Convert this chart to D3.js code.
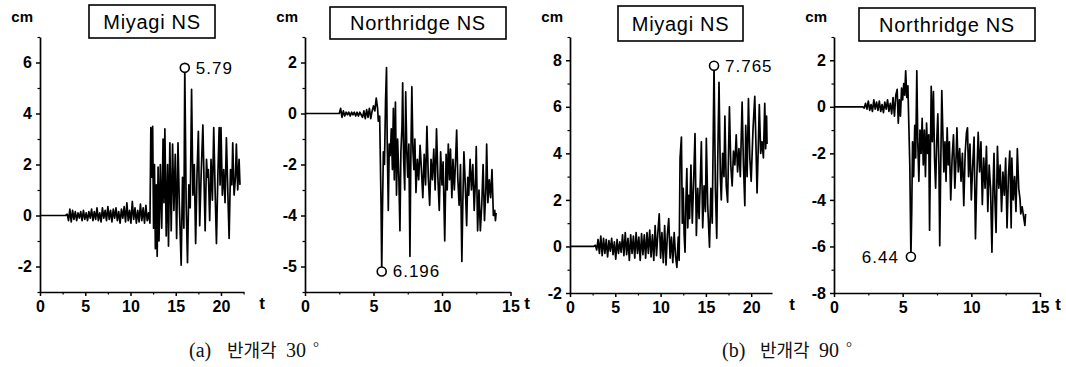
<!DOCTYPE html>
<html>
<head>
<meta charset="utf-8">
<script src="https://cdn.jsdelivr.net/npm/d3@7"></script>
<style>
  body { margin: 0; background: #fff; }
  svg { display: block; }
</style>
</head>
<body>
<div id="chart"></div>
<script>
// [t (s), displacement (cm)]
const miyagi30 = [
  [0,0],[2.8,0],[3.0,0.05],[3.15,-0.2],[3.3,0.25],[3.45,-0.25],[3.6,0.2],[3.75,-0.15],[3.9,0.15],[4.05,-0.2],
  [4.2,0.1],[4.35,-0.1],[4.5,0.15],[4.65,-0.2],[4.8,0.2],[4.95,-0.15],[5.1,0.1],[5.25,-0.2],[5.4,0.15],[5.55,-0.1],
  [5.7,0.25],[5.85,-0.2],[6.0,0.15],[6.15,-0.15],[6.3,0.3],[6.45,-0.2],[6.6,0.1],[6.75,-0.25],[6.9,0.3],[7.05,-0.1],
  [7.2,0.2],[7.35,-0.2],[7.5,0.35],[7.65,-0.15],[7.8,0.2],[7.95,-0.25],[8.1,0.25],[8.25,-0.1],[8.4,0.3],[8.55,-0.2],
  [8.7,0.15],[8.85,-0.3],[9.0,0.25],[9.15,-0.1],[9.3,0.35],[9.45,-0.25],[9.6,0.5],[9.75,-0.2],[9.9,0.2],[10.05,-0.3],
  [10.2,0.55],[10.35,-0.15],[10.5,0.3],[10.65,-0.3],[10.8,0.2],[10.95,-0.25],[11.1,0.45],[11.25,-0.2],[11.4,0.3],[11.55,-0.3],
  [11.7,0.4],[11.85,-0.2],[12.0,0.1],[12.15,-0.3],[12.25,3.45],[12.35,1.5],[12.45,3.5],[12.55,-0.5],[12.65,2.0],[12.75,-1.3],
  [12.85,1.2],[12.95,-1.6],[13.05,1.9],[13.15,-1.0],[13.3,2.0],[13.45,-0.5],[13.6,3.0],[13.7,0.5],[13.8,3.4],[13.95,-0.8],
  [14.1,2.0],[14.2,-1.2],[14.35,2.85],[14.5,-0.6],[14.65,2.8],[14.8,0.2],[14.95,2.4],[15.1,-0.9],[15.25,2.85],[15.4,0.4],
  [15.6,-1.95],[15.75,1.5],[15.9,-0.5],[16.0,5.79],[16.15,0.5],[16.3,-1.85],[16.45,1.2],[16.6,0.3],[16.75,4.95],[16.9,0.8],
  [17.05,2.0],[17.2,-1.1],[17.35,1.6],[17.5,3.3],[17.65,-0.4],[17.8,1.5],[18.0,3.55],[18.15,1.0],[18.25,-0.6],[18.4,2.2],
  [18.5,1.5],[18.6,1.8],[18.75,-0.2],[18.9,2.2],[19.05,0.6],[19.2,3.45],[19.35,1.0],[19.5,-1.1],[19.65,1.5],[19.8,3.45],
  [19.9,1.2],[20.0,3.45],[20.15,0.8],[20.3,1.8],[20.45,0.5],[20.6,3.05],[20.75,1.0],[20.9,-0.9],[21.05,1.8],[21.2,1.2],
  [21.3,2.85],[21.45,0.8],[21.6,1.5],[21.7,2.8],[21.85,1.0],[22.0,2.2],[22.1,1.2]
];

const northridge30 = [
  [0,0],[2.5,0],[2.6,0.2],[2.7,-0.15],[2.8,0.1],[2.9,-0.1],[3.0,0.05],[3.1,-0.05],[3.2,0.05],[3.3,-0.1],
  [3.4,0.05],[3.5,-0.05],[3.6,0.05],[3.7,-0.1],[3.8,0.05],[3.9,-0.1],[4.0,0.05],[4.1,-0.05],[4.2,-0.15],[4.3,0.1],
  [4.4,-0.2],[4.5,0.15],[4.6,-0.15],[4.7,0.2],[4.8,-0.2],[4.9,0.1],[5.0,0.3],[5.1,0.1],[5.2,0.6],[5.3,0.2],
  [5.35,-0.3],[5.45,-0.1],[5.55,-3.5],[5.6,-6.196],[5.65,-4.0],[5.72,-1.5],[5.8,-2.0],[5.88,0.5],[5.95,1.8],[6.0,-1.0],
  [6.08,-3.8],[6.15,-1.2],[6.22,-1.65],[6.3,-0.6],[6.38,-2.2],[6.45,0.2],[6.52,-2.6],[6.6,0.45],[6.68,-3.2],[6.76,-1.0],
  [6.85,-2.5],[6.93,-4.6],[7.0,-1.5],[7.08,-0.5],[7.13,1.2],[7.2,-1.8],[7.28,-3.0],[7.35,0.85],[7.43,-1.5],[7.5,-2.5],
  [7.58,-1.2],[7.66,-5.6],[7.72,-2.0],[7.8,1.05],[7.88,-1.5],[7.95,-2.2],[8.02,-1.0],[8.1,-3.1],[8.2,-1.8],[8.3,-2.6],
  [8.4,-1.25],[8.5,-2.2],[8.6,-3.3],[8.7,-1.6],[8.8,-2.8],[8.9,-0.5],[9.0,-2.5],[9.1,-3.6],[9.2,-1.8],[9.3,-2.6],
  [9.4,-1.4],[9.5,-3.0],[9.6,-0.6],[9.7,-2.5],[9.8,-3.8],[9.9,-1.5],[10.0,-2.8],[10.08,-1.9],[10.2,-5.0],[10.3,-1.6],
  [10.38,-3.0],[10.46,-1.2],[10.55,-2.6],[10.62,-1.4],[10.72,-3.3],[10.8,-1.8],[10.9,-3.0],[11.0,-1.7],[11.07,-0.65],[11.15,-2.5],
  [11.25,-3.6],[11.35,-2.0],[11.45,-5.8],[11.52,-3.5],[11.6,-1.5],[11.7,-2.8],[11.8,-4.4],[11.88,-2.5],[11.95,-3.2],[12.05,-1.8],
  [12.15,-3.0],[12.25,-2.0],[12.35,-3.8],[12.45,-2.5],[12.5,-1.3],[12.6,-4.6],[12.7,-3.0],[12.8,-4.6],[12.9,-3.6],[13.0,-2.0],
  [13.1,-4.2],[13.2,-3.0],[13.26,-1.2],[13.35,-3.5],[13.45,-2.6],[13.55,-3.3],[13.65,-2.2],[13.75,-4.0],[13.85,-3.8],[13.9,-4.2],
  [13.95,-3.9]
];

const miyagi90 = [
  [0,0],[2.6,0],[2.8,0.05],[2.95,-0.15],[3.1,0.3],[3.25,-0.3],[3.4,0.45],[3.55,-0.4],[3.7,0.35],[3.85,-0.3],
  [4.0,0.3],[4.15,-0.45],[4.3,0.25],[4.45,-0.2],[4.6,0.35],[4.75,-0.35],[4.9,0.2],[5.05,-0.55],[5.2,0.3],[5.35,-0.3],
  [5.5,0.2],[5.65,-0.25],[5.8,0.5],[5.95,-0.4],[6.1,0.6],[6.25,-0.35],[6.4,0.35],[6.55,-0.6],[6.7,0.5],[6.85,-0.3],
  [7.0,0.45],[7.15,-0.5],[7.3,0.6],[7.45,-0.3],[7.6,0.4],[7.75,-0.6],[7.9,0.55],[8.05,-0.35],[8.2,0.5],[8.35,-0.5],
  [8.5,0.6],[8.65,-0.3],[8.8,0.7],[8.95,-0.45],[9.1,0.5],[9.25,-0.6],[9.4,0.9],[9.55,-0.4],[9.7,0.6],[9.85,1.4],
  [10.0,-0.5],[10.15,0.6],[10.3,-0.7],[10.45,0.9],[10.6,-0.8],[10.75,0.5],[10.9,1.2],[11.05,-0.5],[11.2,0.4],[11.35,-0.7],
  [11.5,0.6],[11.65,-0.4],[11.8,-0.9],[11.95,0.4],[12.05,-0.6],[12.15,3.8],[12.3,4.7],[12.4,1.0],[12.5,2.5],[12.6,0.5],
  [12.7,-0.25],[12.8,2.0],[12.9,3.35],[13.0,0.8],[13.1,2.2],[13.2,1.2],[13.35,3.5],[13.5,1.0],[13.65,2.8],[13.8,4.85],
  [13.95,0.47],[14.1,2.5],[14.25,1.2],[14.4,3.0],[14.5,4.5],[14.65,0.8],[14.8,2.6],[14.95,1.5],[15.05,4.65],[15.2,1.8],
  [15.4,-0.03],[15.55,2.5],[15.7,1.0],[15.9,7.765],[16.05,2.5],[16.2,0.35],[16.3,3.5],[16.45,7.05],[16.6,3.0],[16.7,2.0],
  [16.85,4.0],[17.0,3.0],[17.1,5.6],[17.25,2.6],[17.4,1.9],[17.6,6.0],[17.75,3.5],[17.9,2.6],[18.05,4.1],[18.2,3.5],
  [18.35,4.8],[18.5,3.2],[18.65,4.2],[18.8,3.0],[19.0,6.2],[19.15,3.5],[19.3,1.75],[19.4,5.2],[19.55,3.0],[19.7,6.35],
  [19.85,3.8],[20.0,2.8],[20.2,5.0],[20.4,6.45],[20.55,4.0],[20.65,2.3],[20.8,4.5],[20.9,6.1],[21.05,4.0],[21.2,4.5],
  [21.35,3.8],[21.5,6.15],[21.6,4.2],[21.7,5.6],[21.75,4.4]
];

const northridge90 = [
  [0,0],[2.1,0],[2.2,-0.05],[2.3,0.15],[2.4,-0.1],[2.5,0.25],[2.6,-0.15],[2.7,0.1],[2.8,-0.2],[2.9,0.3],
  [3.0,-0.1],[3.1,0.2],[3.2,-0.15],[3.3,0.25],[3.4,-0.2],[3.5,0.1],[3.6,-0.25],[3.7,0.2],[3.8,-0.1],[3.9,0.3],
  [4.0,-0.2],[4.1,0.15],[4.2,-0.3],[4.3,0.4],[4.4,-0.4],[4.5,0.5],[4.6,0.75],[4.68,-0.7],[4.76,0.3],[4.84,-0.4],
  [4.92,0.8],[5.0,0.3],[5.08,1.0],[5.15,0.5],[5.22,1.55],[5.3,0.4],[5.38,0.9],[5.45,-0.8],[5.52,-2.5],[5.6,-6.44],
  [5.66,-4.5],[5.72,-1.5],[5.8,-3.0],[5.88,-0.8],[5.95,-2.2],[6.03,1.55],[6.1,-1.5],[6.18,-3.2],[6.26,-1.0],[6.34,-2.0],
  [6.42,-0.5],[6.5,-2.5],[6.58,-1.0],[6.66,-3.0],[6.74,-0.7],[6.82,-2.0],[6.9,-1.2],[6.96,-5.3],[7.02,-2.0],[7.08,0.88],
  [7.16,-1.5],[7.24,0.65],[7.32,-2.2],[7.4,-3.5],[7.48,-1.5],[7.56,-0.3],[7.64,-2.5],[7.7,-5.97],[7.78,-2.2],[7.85,0.7],
  [7.92,-1.0],[8.0,-2.8],[8.08,-1.5],[8.16,-3.2],[8.24,-0.9],[8.32,-2.5],[8.4,-1.5],[8.5,-4.0],[8.6,-2.2],[8.7,-1.2],
  [8.8,-3.5],[8.9,-2.0],[8.95,-0.9],[9.05,-2.8],[9.15,-1.8],[9.25,-3.2],[9.35,-2.0],[9.45,-4.25],[9.55,-2.0],[9.65,-1.1],
  [9.72,-0.9],[9.8,-3.0],[9.9,-1.6],[10.0,-4.0],[10.1,-2.5],[10.2,-1.3],[10.3,-5.67],[10.4,-3.0],[10.5,-1.1],[10.6,-2.8],
  [10.7,-1.5],[10.8,-4.2],[10.9,-2.2],[11.0,-3.5],[11.1,-1.7],[11.2,-4.5],[11.3,-2.5],[11.4,-3.5],[11.5,-6.25],[11.58,-3.5],
  [11.65,-2.0],[11.72,-4.0],[11.8,-5.4],[11.9,-1.7],[12.0,-3.5],[12.1,-2.5],[12.2,-4.5],[12.3,-2.8],[12.4,-3.8],[12.5,-2.2],
  [12.6,-5.2],[12.7,-3.0],[12.8,-1.9],[12.9,-5.2],[12.95,-2.2],[13.05,-4.0],[13.15,-3.0],[13.25,-4.5],[13.35,-1.8],[13.45,-3.5],
  [13.55,-4.0],[13.6,-4.6],[13.7,-4.3],[13.8,-4.7],[13.9,-5.1],[13.95,-4.6]
];

const titles = ["Miyagi NS", "Northridge NS", "Miyagi NS", "Northridge NS"];
const peakT = [16.0, 5.6, 15.9, 5.6];
const peakV = [5.79, -6.196, 7.765, -6.44];
const peakLabels = ["5.79", "6.196", "7.765", "6.44"];

const yTicks = [[-2, 0, 2, 4, 6], [2, 0, -2, -4, -6], [-2, 0, 2, 4, 6, 8], [-8, -6, -4, -2, 0, 2]];
const yTickLabels = [["-2", "0", "2", "4", "6"], ["2", "0", "-2", "-4", "-5"], ["-2", "0", "2", "4", "6", "8"], ["-8", "-6", "-4", "-2", "0", "2"]];
const yMinor = [[-3, -1, 1, 3, 5, 7], [-7, -5, -3, -1, 1, 3], [-1, 1, 3, 5, 7, 9], [-7, -5, -3, -1, 1, 3]];
const xTicks = [[0, 5, 10, 15, 20], [0, 5, 10, 15], [0, 5, 10, 15, 20], [0, 5, 10, 15]];
const xMinor = [[2.5, 7.5, 12.5, 17.5, 22.5], [2.5, 7.5, 12.5], [2.5, 7.5, 12.5, 17.5], [2.5, 7.5, 12.5]];
const xDomains = [[0, 22.5], [0, 15], [0, 22.3], [0, 15]];
const yDomains = [[-3, 7], [-7, 3], [-2, 9], [-8, 3]];

const captions = [["(a)", "반개각", "30", "°"], ["(b)", "반개각", "90", "°"]];

// layout
const panels = [
  { data: miyagi30,     left: 40,  right: 243.6, top: 37, bottom: 292, box: [89, 5, 126, 33],  tX: 262,  labelSide: "right" },
  { data: northridge30, left: 305, right: 510.5, top: 37, bottom: 292, box: [330, 7, 176, 32], tX: 527,  labelSide: "right" },
  { data: miyagi90,     left: 570, right: 772,   top: 37, bottom: 293, box: [618, 6, 125, 35], tX: 792,  labelSide: "right" },
  { data: northridge90, left: 834, right: 1040,  top: 37, bottom: 293, box: [859, 8, 176, 33], tX: 1058, labelSide: "left" }
];

const W = 1066, H = 367;
const svg = d3.select("#chart").append("svg")
  .attr("width", W)
  .attr("height", H)
  .attr("viewBox", [0, 0, W, H]);

const tickFont = "'Liberation Sans', Arial, sans-serif";

panels.forEach((p, i) => {
  const x = d3.scaleLinear().domain(xDomains[i]).range([p.left, p.right]);
  const y = d3.scaleLinear().domain(yDomains[i]).range([p.bottom, p.top]);
  const g = svg.append("g");

  // minor ticks first so the axis line sits on top
  g.append("g")
    .attr("transform", `translate(${p.left},0)`)
    .call(d3.axisLeft(y).tickValues(yMinor[i]).tickSize(2.5).tickFormat("").tickSizeOuter(0))
    .call(a => a.select(".domain").remove())
    .selectAll("line").attr("stroke-width", 1.2);
  g.append("g")
    .attr("transform", `translate(0,${p.bottom})`)
    .call(d3.axisBottom(x).tickValues(xMinor[i]).tickSize(2.5).tickFormat("").tickSizeOuter(0))
    .call(a => a.select(".domain").remove())
    .selectAll("line").attr("stroke-width", 1.2);

  const yAxis = g.append("g")
    .attr("transform", `translate(${p.left},0)`)
    .call(d3.axisLeft(y).tickValues(yTicks[i]).tickSize(4).tickPadding(4).tickSizeOuter(0)
      .tickFormat((d, k) => yTickLabels[i][k]));
  const xAxis = g.append("g")
    .attr("transform", `translate(0,${p.bottom})`)
    .call(d3.axisBottom(x).tickValues(xTicks[i]).tickSize(4).tickPadding(5).tickSizeOuter(0));

  [yAxis, xAxis].forEach(a => {
    a.attr("font-family", tickFont).attr("font-size", 16);
    a.select(".domain").attr("stroke-width", 1.7);
    a.selectAll(".tick line").attr("stroke-width", 1.5);
    a.selectAll("text")
      .attr("font-weight", "bold")
      .attr("fill", "#000");
  });

  // the trace
  const line = d3.line().x(d => x(d[0])).y(d => y(d[1]));
  g.append("path")
    .datum(p.data)
    .attr("fill", "none")
    .attr("stroke", "#000")
    .attr("stroke-width", 1.7)
    .attr("stroke-linejoin", "round")
    .attr("d", line);

  // units
  g.append("text")
    .attr("x", p.left - 7)
    .attr("y", 22)
    .attr("text-anchor", "end")
    .attr("font-family", tickFont)
    .attr("font-weight", "bold")
    .attr("font-size", 15)
    .text("cm");
  g.append("text")
    .attr("x", p.tX)
    .attr("y", p.bottom + 17)
    .attr("text-anchor", "middle")
    .attr("font-family", tickFont)
    .attr("font-weight", "bold")
    .attr("font-size", 17)
    .text("t");

  // title box
  g.append("rect")
    .attr("x", p.box[0]).attr("y", p.box[1])
    .attr("width", p.box[2]).attr("height", p.box[3])
    .attr("fill", "#fff")
    .attr("stroke", "#000")
    .attr("stroke-width", 1.6);
  g.append("text")
    .attr("x", p.box[0] + p.box[2] / 2)
    .attr("y", p.box[1] + p.box[3] / 2 + 7)
    .attr("text-anchor", "middle")
    .attr("font-family", tickFont)
    .attr("font-size", 20)
    .attr("letter-spacing", 0.7)
    .text(titles[i]);

  // peak marker
  const px = x(peakT[i]), py = y(peakV[i]);
  g.append("circle")
    .attr("cx", px).attr("cy", py).attr("r", 4.5)
    .attr("fill", "#fff")
    .attr("stroke", "#000")
    .attr("stroke-width", 1.6);
  g.append("text")
    .attr("x", p.labelSide === "right" ? px + 11 : px - 12)
    .attr("y", py + 6)
    .attr("text-anchor", p.labelSide === "right" ? "start" : "end")
    .attr("font-family", tickFont)
    .attr("font-size", 17)
    .attr("letter-spacing", 1)
    .text(peakLabels[i]);
});

// captions under each pair of plots
const capX = [189, 722];
const capOffsets = [0, 38, 97, 124];
captions.forEach((c, i) => {
  const t = svg.append("text")
    .attr("y", 357)
    .attr("font-family", "'Liberation Serif', 'Noto Sans CJK KR', serif")
    .attr("fill", "#111");
  c.forEach((s, k) => {
    t.append("tspan")
      .attr("x", capX[i] + capOffsets[k])
      .attr("y", k === 3 ? 352 : 357)
      .attr("font-size", k === 3 ? 15 : (k === 1 ? 18 : 20))
      .text(s);
  });
});
</script>
</body>
</html>
